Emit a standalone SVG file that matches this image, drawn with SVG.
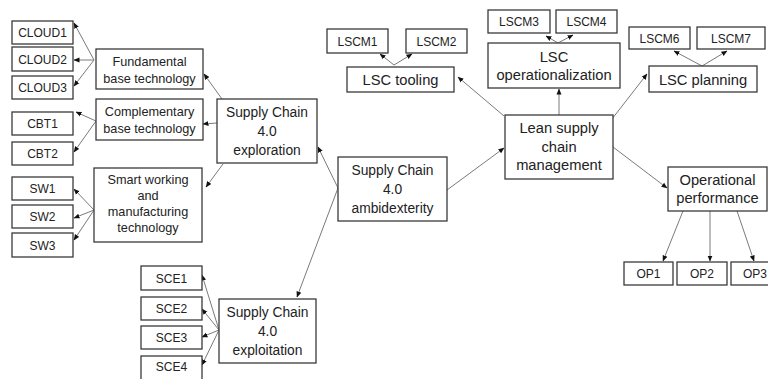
<svg xmlns="http://www.w3.org/2000/svg" width="768" height="379" viewBox="0 0 768 379">
<style>
rect{fill:#fff;stroke:#3a3a3a;stroke-width:1.3}
text{font-family:"Liberation Sans",Arial,sans-serif;fill:#222;text-anchor:middle}
.s{font-size:12px}
.l{font-size:12.7px}
.m{font-size:13.8px}
.r{font-size:14.7px}
#connectors line{stroke:#7a7a7a;stroke-width:1;marker-end:url(#ah)}
</style>
<defs>
<marker id="ah" markerUnits="userSpaceOnUse" markerWidth="6" markerHeight="6" refX="5.5" refY="3" orient="auto"><path d="M0,0.5 L6,3 L0,5.5 z" fill="#111"/></marker>
</defs>
<rect x="0" y="0" width="768" height="379" style="fill:#fff;stroke:none"/>
<g id="connectors">
<line x1="94" y1="60" x2="74" y2="23"/>
<line x1="94" y1="60" x2="74" y2="60"/>
<line x1="94" y1="60" x2="74" y2="86"/>
<line x1="96" y1="121" x2="76" y2="112"/>
<line x1="96" y1="121" x2="74" y2="152"/>
<line x1="94" y1="210" x2="74" y2="189"/>
<line x1="94" y1="210" x2="74" y2="218"/>
<line x1="94" y1="210" x2="74" y2="240"/>
<line x1="222" y1="99" x2="204" y2="74"/>
<line x1="217" y1="123" x2="203" y2="124"/>
<line x1="223" y1="164" x2="206" y2="187"/>
<line x1="338" y1="188" x2="318" y2="147"/>
<line x1="338" y1="188" x2="297" y2="297"/>
<line x1="219" y1="330" x2="202" y2="275"/>
<line x1="219" y1="330" x2="202" y2="309"/>
<line x1="219" y1="330" x2="202" y2="337"/>
<line x1="219" y1="330" x2="202" y2="365"/>
<line x1="447" y1="190" x2="504" y2="148"/>
<line x1="504" y1="116" x2="458" y2="77"/>
<line x1="559" y1="115" x2="559" y2="89"/>
<line x1="612" y1="119" x2="647" y2="74"/>
<line x1="613" y1="147" x2="667" y2="188"/>
<line x1="683" y1="211" x2="663" y2="261"/>
<line x1="710" y1="211" x2="710" y2="261"/>
<line x1="737" y1="211" x2="754" y2="261"/>
<line x1="394" y1="65" x2="380" y2="54"/>
<line x1="394" y1="65" x2="412" y2="54"/>
<line x1="558" y1="43" x2="546" y2="36"/>
<line x1="558" y1="43" x2="573" y2="35"/>
<line x1="702" y1="66" x2="674" y2="51"/>
<line x1="702" y1="66" x2="727" y2="51"/>
</g>
<g id="cloud1"><rect x="12" y="21" width="61" height="23"/><text class="s" x="42.5" y="37">CLOUD1</text></g>
<g id="cloud2"><rect x="12" y="47" width="61" height="24"/><text class="s" x="42.5" y="63.5">CLOUD2</text></g>
<g id="cloud3"><rect x="12" y="76" width="61" height="23"/><text class="s" x="42.5" y="92">CLOUD3</text></g>
<g id="cbt1"><rect x="12" y="112" width="61" height="23"/><text class="s" x="42.5" y="128">CBT1</text></g>
<g id="cbt2"><rect x="12" y="142" width="61" height="23"/><text class="s" x="42.5" y="158">CBT2</text></g>
<g id="sw1"><rect x="12" y="177" width="61" height="23"/><text class="s" x="42.5" y="193">SW1</text></g>
<g id="sw2"><rect x="12" y="205" width="61" height="23"/><text class="s" x="42.5" y="221">SW2</text></g>
<g id="sw3"><rect x="12" y="233" width="61" height="24"/><text class="s" x="42.5" y="249.5">SW3</text></g>
<g id="fundamental"><rect x="96" y="49" width="107" height="40"/><text class="l" x="149.5" y="66">Fundamental</text><text class="l" x="149.5" y="83">base technology</text></g>
<g id="complementary"><rect x="96" y="99" width="107" height="41"/><text class="l" x="149.5" y="116">Complementary</text><text class="l" x="149.5" y="133">base technology</text></g>
<g id="smart"><rect x="94" y="168" width="108" height="74"/><text class="l" x="148" y="184">Smart working</text><text class="l" x="148" y="200">and</text><text class="l" x="148" y="216">manufacturing</text><text class="l" x="148" y="232">technology</text></g>
<g id="exploration"><rect x="217" y="99" width="100" height="64"/><text class="m" x="267" y="117">Supply Chain</text><text class="m" x="267" y="136">4.0</text><text class="m" x="267" y="155">exploration</text></g>
<g id="ambidexterity"><rect x="338" y="157" width="109" height="64"/><text class="m" x="392.5" y="175">Supply Chain</text><text class="m" x="392.5" y="194">4.0</text><text class="m" x="392.5" y="213">ambidexterity</text></g>
<g id="exploitation"><rect x="219" y="299" width="97" height="64"/><text class="m" x="267.5" y="317">Supply Chain</text><text class="m" x="267.5" y="336">4.0</text><text class="m" x="267.5" y="355">exploitation</text></g>
<g id="sce1"><rect x="141" y="266" width="61" height="24"/><text class="s" x="171.5" y="282.5">SCE1</text></g>
<g id="sce2"><rect x="141" y="297" width="61" height="23"/><text class="s" x="171.5" y="313">SCE2</text></g>
<g id="sce3"><rect x="141" y="326" width="61" height="23"/><text class="s" x="171.5" y="342">SCE3</text></g>
<g id="sce4"><rect x="141" y="356" width="61" height="26"/><text class="s" x="171.5" y="371">SCE4</text></g>
<g id="lean"><rect x="505" y="115" width="108" height="64"/><text class="r" x="559" y="133">Lean supply</text><text class="r" x="559" y="152">chain</text><text class="r" x="559" y="170">management</text></g>
<g id="tooling"><rect x="347" y="67" width="107" height="25"/><text class="r" x="400.5" y="85">LSC tooling</text></g>
<g id="lscm1"><rect x="327" y="29" width="61" height="24"/><text class="s" x="357.5" y="45.5">LSCM1</text></g>
<g id="lscm2"><rect x="406" y="29" width="61" height="24"/><text class="s" x="436.5" y="45.5">LSCM2</text></g>
<g id="operationalization"><rect x="488" y="43" width="132" height="45"/><text class="r" x="554" y="62">LSC</text><text class="r" x="554" y="80">operationalization</text></g>
<g id="lscm3"><rect x="488" y="10" width="62" height="23"/><text class="s" x="519" y="26">LSCM3</text></g>
<g id="lscm4"><rect x="556" y="10" width="61" height="23"/><text class="s" x="586.5" y="26">LSCM4</text></g>
<g id="planning"><rect x="649" y="66" width="108" height="26"/><text class="r" x="703" y="84.5">LSC planning</text></g>
<g id="lscm6"><rect x="629" y="27" width="61" height="22"/><text class="s" x="659.5" y="42.5">LSCM6</text></g>
<g id="lscm7"><rect x="697" y="27" width="68" height="22"/><text class="s" x="731" y="42.5">LSCM7</text></g>
<g id="operational"><rect x="668" y="167" width="99" height="44"/><text class="r" x="717.5" y="185">Operational</text><text class="r" x="717.5" y="203">performance</text></g>
<g id="op1"><rect x="624" y="262" width="49" height="23"/><text class="s" x="648.5" y="278">OP1</text></g>
<g id="op2"><rect x="677" y="262" width="50" height="23"/><text class="s" x="702" y="278">OP2</text></g>
<g id="op3"><rect x="731" y="262" width="48" height="23"/><text class="s" x="755" y="278">OP3</text></g>
</svg>
